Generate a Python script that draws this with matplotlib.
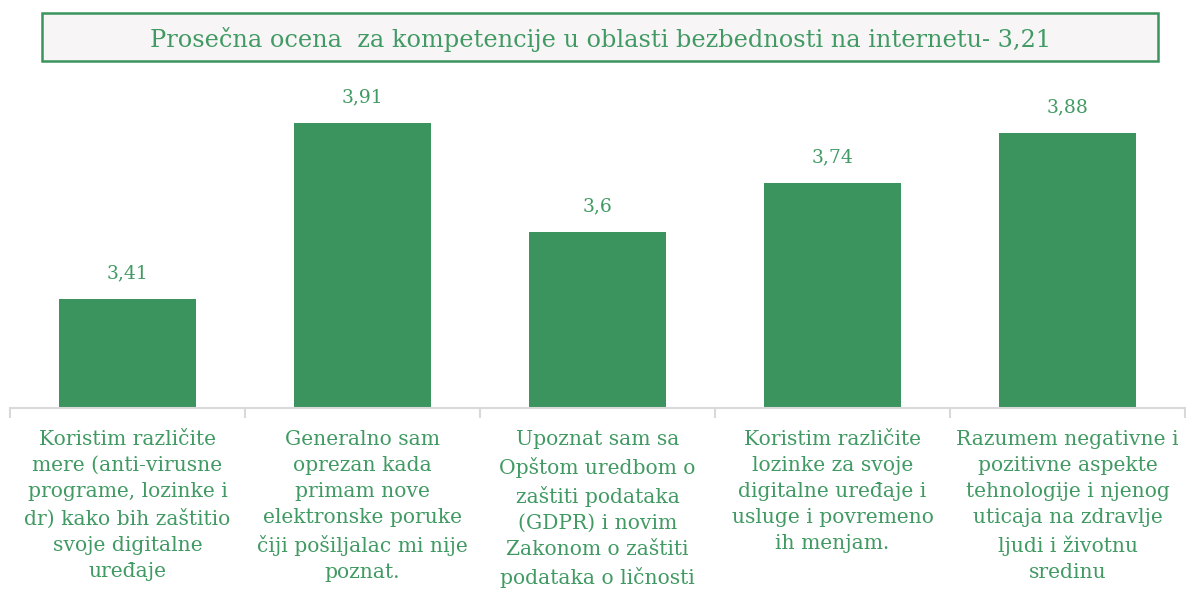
import matplotlib
matplotlib.use("Agg")
import matplotlib.pyplot as plt
from matplotlib.patches import Rectangle

categories = [
    "Koristim različite\nmere (anti-virusne\nprograme, lozinke i\ndr) kako bih zaštitio\nsvoje digitalne\nuređaje",
    "Generalno sam\noprezan kada\nprimam nove\nelektronske poruke\nčiji pošiljalac mi nije\npoznat.",
    "Upoznat sam sa\nOpštom uredbom o\nzaštiti podataka\n(GDPR) i novim\nZakonom o zaštiti\npodataka o ličnosti",
    "Koristim različite\nlozinke za svoje\ndigitalne uređaje i\nusluge i povremeno\nih menjam.",
    "Razumem negativne i\npozitivne aspekte\ntehnologije i njenog\nuticaja na zdravlje\nljudi i životnu\nsredinu",
]
values = [3.41, 3.91, 3.6, 3.74, 3.88]
value_labels = ["3,41", "3,91", "3,6", "3,74", "3,88"]
title = "Prosečna ocena  za kompetencije u oblasti bezbednosti na internetu- 3,21"

GREEN = "#3b945e"
TEXT_GREEN = "#419a63"
FONT = ["DejaVu Serif"]

W, H = 1186, 594
fig = plt.figure(figsize=(W / 100, H / 100), dpi=100)
ax = fig.add_axes([10 / W, (H - 408) / H, 1175 / W, 317 / H])

x = list(range(len(values)))
ax.bar(x, values, width=0.583, color=GREEN)
ax.set_ylim(3.1, 4.0)
ax.set_xlim(-0.5, len(values) - 0.5)

for xi, v, lab in zip(x, values, value_labels):
    ax.annotate(lab, (xi, v), xytext=(0, 12), textcoords="offset points",
                ha="center", va="bottom", color=TEXT_GREEN, fontsize=13.5, family=FONT)

for s in ["top", "right", "left"]:
    ax.spines[s].set_visible(False)
ax.spines["bottom"].set_color("#d9d9d9")
ax.spines["bottom"].set_linewidth(1.5)
ax.set_yticks([])
ax.set_xticks([])
ax.set_xticks([i - 0.5 for i in range(len(values) + 1)], minor=True)
ax.tick_params(axis="x", which="minor", length=7, width=1.5, color="#d9d9d9", labelbottom=False)

for xi, cat in zip(x, categories):
    ax.annotate(cat, (xi, 3.1), xytext=(0, -16), textcoords="offset points",
                ha="center", va="top", color=TEXT_GREEN, fontsize=14.6, family=FONT,
                linespacing=1.47, multialignment="center")

# title box
fig.patches.append(Rectangle((42 / W, (H - 61) / H), 1116 / W, 48 / H, transform=fig.transFigure,
                             facecolor="#f7f5f6", edgecolor=GREEN, linewidth=1.8))
fig.text(601 / W, (H - 39) / H, title, ha="center", va="center", color=TEXT_GREEN,
         fontsize=17.3, family=FONT)

fig.savefig("out.png", dpi=100, facecolor="white")
